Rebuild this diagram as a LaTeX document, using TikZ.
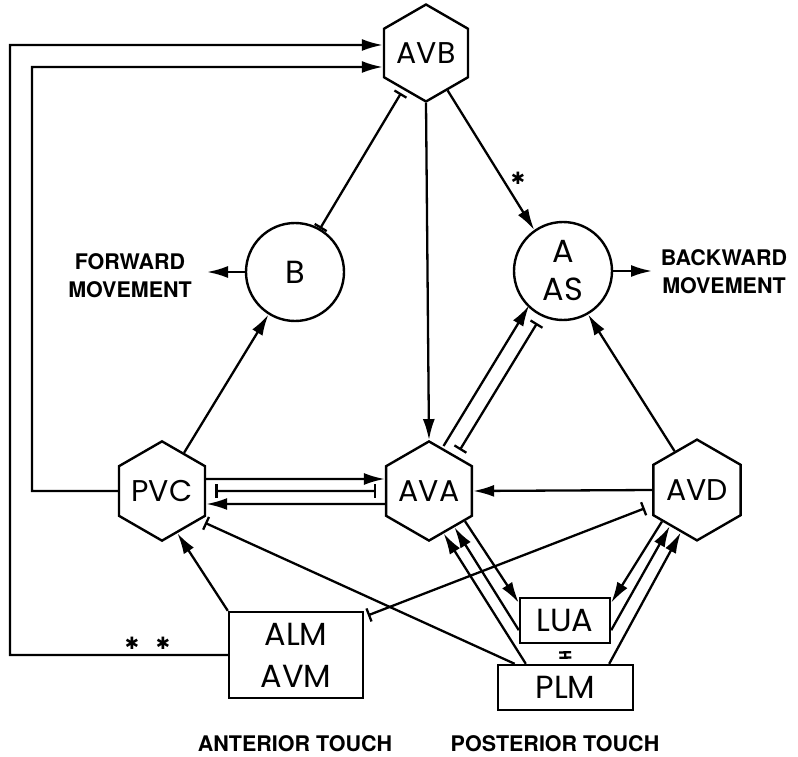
\documentclass[tikz,border=0pt]{standalone}
\usepackage{fontspec}
\setmainfont{TeX Gyre Heros}
\newfontfamily\symfont{DejaVu Sans}
\newfontfamily\lblfont{Poppins}
\usetikzlibrary{shapes.geometric,arrows.meta,calc}
\begin{document}
\begin{tikzpicture}[x=1pt,y=-1pt,
  hexa/.style={draw,line width=2.4pt,regular polygon,regular polygon sides=6,shape border rotate=30,minimum size=97pt,inner sep=0pt,font=\lblfont\fontsize{30}{34}\selectfont},
  circ/.style={draw,line width=2.4pt,circle,minimum size=98pt,inner sep=0pt,align=center,font=\lblfont\fontsize{32}{38}\selectfont},
  boxn/.style={draw,line width=2.4pt,rectangle,inner sep=0pt,align=center,font=\lblfont\fontsize{32}{42}\selectfont},
  caption/.style={font=\bfseries\fontsize{21.5}{28}\selectfont,align=center},
  starlbl/.style={font=\symfont\bfseries\fontsize{17}{17}\selectfont,inner sep=0pt},
  conn/.style={line width=2.3pt},
  arr/.style={conn,-{Latex[length=21pt,width=12pt]}},
  inhb/.style={conn,{Bar[width=14pt]}-{Bar[width=14pt]}},
  inh/.style={conn,-{Bar[width=14pt]}},
]
\useasboundingbox (0,0) rectangle (798,757);

% neurons
\node[hexa] (AVB) at (426,53) {AVB};
\node[hexa] (PVC) at (162,491) {PVC};
\node[hexa] (AVA) at (429,491) {AVA};
\node[hexa] (AVD) at (697,490) {AVD};
\node[circ] (B) at (295,272) {B};
\node[circ] (AS) at (563,271) {A\\AS};
\node[boxn,minimum width=134pt,minimum height=86pt] (ALM) at (296,655) {ALM\\AVM};
\node[boxn,minimum width=90pt,minimum height=45pt] (LUA) at (565,620.5) {LUA};
\node[boxn,minimum width=135pt,minimum height=45pt] (PLM) at (565.5,687.5) {PLM};

% captions
\node[caption] (fwd) at (130,276) {FORWARD\\MOVEMENT};
\node[caption] (bwd) at (724,272) {BACKWARD\\MOVEMENT};
\node[caption] (ant) at (295,744) {ANTERIOR TOUCH};
\node[caption] (post) at (555,744) {POSTERIOR TOUCH};

\coordinate (fwdtip) at (207,272);
\coordinate (bwdtip) at (652,271);
\draw[arr] (B.west) -- (fwdtip);
\draw[arr] (AS.east) -- (bwdtip);

% long loops to AVB
\coordinate (outerC) at (10,45);
\coordinate (innerC) at (32,67);
\coordinate (outerT) at ($(AVB.180)+(0,-8)$);
\coordinate (innerT) at ($(AVB.180)+(0,14)$);
\draw[arr] (ALM.west) -| (outerC) -- (outerT);
\draw[arr] (PVC.180) -| (innerC) -- (innerT);
\node[starlbl] (st1) at (132,643) {✱};
\node[starlbl] (st2) at (163,643) {✱};

% AVB outputs
\draw[inhb, shorten <=4pt] (AVB.238) -- (B.60);
\draw[arr] (AVB.270) -- (AVA.90);
\draw[arr] (AVB.300) -- (AS.125);
\node[starlbl] (st0) at (518,178) {✱};

% PVC
\draw[arr] (PVC.60) -- (B.238);
\draw[arr] ($(PVC.0)+(0,-12)$) -- ($(AVA.180)+(0,-12)$);
\draw[inhb, shorten <=9pt, shorten >=9pt] (PVC.0) -- (AVA.180);
\draw[arr] ($(AVA.180)+(0,13)$) -- ($(PVC.0)+(0,13)$);

% AVD
\draw[arr] (AVD.180) -- (AVA.0);
\draw[arr] (AVD.120) -- (AS.300);

% AVA - AS pair
\coordinate (pa1) at ($(AVA)!11pt!90:(AS)$);
\coordinate (pa2) at ($(AS)!11pt!-90:(AVA)$);
\coordinate (pb1) at ($(AVA)!5pt!-90:(AS)$);
\coordinate (pb2) at ($(AS)!5pt!90:(AVA)$);
\draw[arr, shorten <=46pt, shorten >=47pt] (pa1) -- (pa2);
\draw[inhb, shorten <=51pt, shorten >=58pt] (pb1) -- (pb2);

% touch neurons
\draw[arr] (ALM.north west) -- (PVC.290);
\coordinate (plmL) at ($(PLM.north west)!0.13!(PLM.north east)$);
\draw[inh, shorten >=6pt] (plmL) -- (PVC.322);
\coordinate (almR) at ($(ALM.north east)+(0,6)$);
\draw[inhb, shorten <=4pt, shorten >=8pt] (almR) -- (AVD.199);

% AVA <-> LUA / PLM
\coordinate (luaNW) at ($(LUA.north west)+(0,6)$);
\coordinate (luaW) at ($(LUA.south west)+(0,-14)$);
\coordinate (plmA) at ($(PLM.north west)+(29,0)$);
\coordinate (luaNE) at ($(LUA.north east)+(0,6)$);
\coordinate (luaE) at ($(LUA.south east)+(0,-14)$);
\coordinate (plmD) at ($(PLM.north east)+(-25,0)$);
\draw[arr] (AVA.320) -- (luaNW);
\draw[arr] (luaW) -- (AVA.305);
\draw[arr] (plmA) -- (AVA.289);
% AVD <-> LUA / PLM
\draw[arr] (AVD.222) -- (luaNE);
\draw[arr] (luaE) -- (AVD.233);
\draw[arr] (plmD) -- (AVD.249);

% LUA - PLM
\draw[conn, {Bar[width=12pt]}-{Bar[width=12pt]}, shorten <=7pt, shorten >=5pt] (LUA.south) -- (PLM.north);
\end{tikzpicture}
\end{document}
